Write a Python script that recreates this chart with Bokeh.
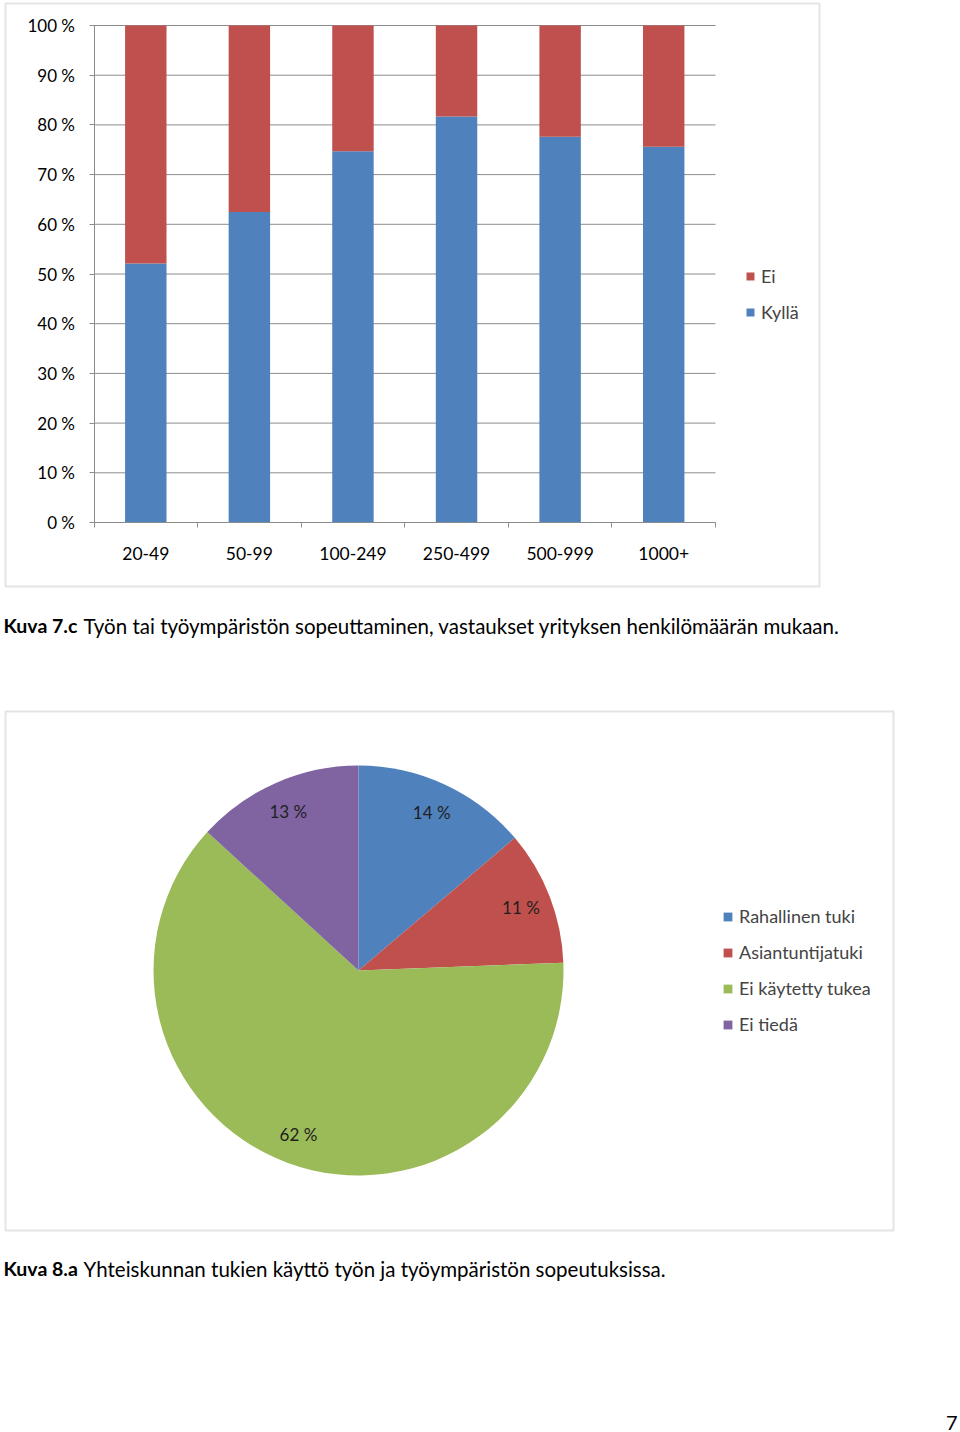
import math
from bokeh.plotting import figure
from bokeh.models import (Range1d, FixedTicker, BoxAnnotation, Label, Legend,
                          LegendItem, ColumnDataSource, LinearAxis)
from bokeh.core.properties import value
from bokeh.embed import file_html
from bokeh.resources import INLINE

FONT = "Lato"
BLUE, RED, GREEN, PURPLE = "#4F81BD", "#C0504D", "#9BBB59", "#8064A2"
GRID = "#8c8c8c"
BOXC = "#a6a6a6"

# ---------------- data ----------------
sizes = ["20-49", "50-99", "100-249", "250-499", "500-999", "1000+"]
kylla = [52.1, 62.5, 74.7, 81.7, 77.6, 75.6]
ei = [47.9, 37.5, 25.3, 18.3, 22.4, 24.4]
y_ticks = [0, 10, 20, 30, 40, 50, 60, 70, 80, 90, 100]
y_tick_labels = ["0 %", "10 %", "20 %", "30 %", "40 %", "50 %",
                 "60 %", "70 %", "80 %", "90 %", "100 %"]
series_names = ["Kyllä", "Ei"]

pie_names = ["Rahallinen tuki", "Asiantuntijatuki", "Ei käytetty tukea", "Ei tiedä"]
pie_values = [13.8, 10.6, 62.4, 13.2]
pie_value_labels = ["14 %", "11 %", "62 %", "13 %"]
pie_colors = [BLUE, RED, GREEN, PURPLE]

caption1_bold = "Kuva 7.c"
caption1_rest = "Työn tai työympäristön sopeuttaminen, vastaukset yrityksen henkilömäärän mukaan."
caption2_bold = "Kuva 8.a"
caption2_rest = "Yhteiskunnan tukien käyttö työn ja työympäristön sopeutuksissa."
page_number = "7"

# ---------------- page layout (pixel anchors) ----------------
W, H = 960, 1432


def xrange_from(px0, v0, px1, v1):
    k = (v1 - v0) / (px1 - px0)
    return Range1d(start=v0 - px0 * k, end=v0 + (W - px0) * k)


def yrange_from(px0, v0, px1, v1):
    k = (v1 - v0) / (px1 - px0)
    return Range1d(start=v0 + (H - px0) * k, end=v0 - px0 * k)


p = figure(width=W, height=H, output_backend="svg", toolbar_location=None,
           title=None, x_range=Range1d(0, W), y_range=Range1d(H, 0),
           x_axis_location=None, y_axis_location=None, min_border=0)
p.outline_line_color = None
p.grid.visible = False
p.background_fill_color = "white"
p.border_fill_color = "white"

# bar chart plot area: x 93.5..715, y 522 (0 %) .. 25 (100 %)
p.extra_x_ranges["bar"] = xrange_from(93.5, 0, 715, len(sizes))
p.extra_y_ranges["pct"] = yrange_from(522, 0, 25, 100)
# pie: centre (358, 970), radius 205 px
p.extra_x_ranges["pie_x"] = xrange_from(358, 0, 563, 1)
p.extra_y_ranges["pie_y"] = yrange_from(970, 0, 765, 1)

# ---------------- bar chart ----------------
p.add_layout(BoxAnnotation(left=5, right=819, top=3, bottom=586,
                           fill_alpha=0, line_color=BOXC, line_width=2))

n = len(sizes)
p.segment(x0=[0] * len(y_ticks), x1=[n] * len(y_ticks), y0=y_ticks, y1=y_ticks,
          x_range_name="bar", y_range_name="pct", line_color=GRID, line_width=1)

xs = [i + 0.5 for i in range(n)]
src = ColumnDataSource(dict(x=xs, kylla=kylla, ei=ei))
rs = p.vbar_stack(["kylla", "ei"], x="x", width=0.4, color=[BLUE, RED],
                  line_color=None, source=src, x_range_name="bar", y_range_name="pct")

yax = LinearAxis(x_range_name="bar", y_range_name="pct", fixed_location=0,
                 bounds=(0, 100), ticker=FixedTicker(ticks=y_ticks))
yax.major_label_overrides = {t: l for t, l in zip(y_ticks, y_tick_labels)}
yax.axis_line_color = GRID
yax.major_tick_line_color = GRID
yax.major_tick_out = 5
yax.major_tick_in = 0
yax.minor_tick_line_color = None
yax.major_label_standoff = 14
yax.major_label_text_font = FONT
yax.major_label_text_font_size = "17px"
yax.major_label_text_color = "#000000"
p.add_layout(yax, "left")

xax = LinearAxis(x_range_name="bar", y_range_name="pct", fixed_location=0,
                 bounds=(0, n),
                 ticker=FixedTicker(ticks=xs, minor_ticks=list(range(n + 1))))
xax.major_label_overrides = {x: s for x, s in zip(xs, sizes)}
xax.axis_line_color = GRID
xax.major_tick_line_color = None
xax.minor_tick_line_color = GRID
xax.minor_tick_out = 5
xax.minor_tick_in = 0
xax.major_label_standoff = 18
xax.major_label_text_font = FONT
xax.major_label_text_font_size = "17.5px"
xax.major_label_text_color = "#000000"
p.add_layout(xax, "below")

leg1 = Legend(items=[LegendItem(label=series_names[1], renderers=[rs[1]]),
                     LegendItem(label=series_names[0], renderers=[rs[0]])],
              location=(745, H - 323), padding=0, margin=0, spacing=14,
              glyph_width=10, glyph_height=10, label_height=20, label_standoff=6,
              label_text_font=FONT, label_text_font_size="18px",
              border_line_color=None, background_fill_alpha=0)
p.add_layout(leg1, "center")

p.add_layout(Label(x=3, y=625, text=caption1_bold, text_font=FONT,
                   text_font_style="bold", text_font_size="19.5px",
                   text_baseline="middle", text_color="#000000"))
p.add_layout(Label(x=83, y=625, text=caption1_rest, text_font=FONT,
                   text_font_size="20.5px", text_baseline="middle", text_color="#000000"))

# ---------------- pie chart ----------------
p.add_layout(BoxAnnotation(left=5, right=893, top=711, bottom=1230,
                           fill_alpha=0, line_color=BOXC, line_width=2))

total = sum(pie_values)
starts, ends, lx, ly = [], [], [], []
cum = 0.0
for v in pie_values:
    a0 = math.pi / 2 - 2 * math.pi * cum / total
    cum += v
    a1 = math.pi / 2 - 2 * math.pi * cum / total
    starts.append(a0)
    ends.append(a1)
    mid = (a0 + a1) / 2
    lx.append(0.85 * math.cos(mid))
    ly.append(0.85 * math.sin(mid))

psrc = ColumnDataSource(dict(start=starts, end=ends, color=pie_colors, name=pie_names,
                             lx=lx, ly=ly, lab=pie_value_labels))
wedges = p.wedge(x=0, y=0, radius=1, start_angle="start", end_angle="end",
                 direction="clock", fill_color="color", line_color=None, source=psrc,
                 x_range_name="pie_x", y_range_name="pie_y")
p.text(x="lx", y="ly", text="lab", source=psrc, text_font=value(FONT),
       text_font_size="17px", text_align="center", text_baseline="middle",
       text_color="#1f1f1f", x_range_name="pie_x", y_range_name="pie_y")

leg2 = Legend(items=[LegendItem(label=nm, renderers=[wedges], index=i)
                     for i, nm in enumerate(pie_names)],
              location=(722, H - 1035), padding=0, margin=0, spacing=14,
              glyph_width=11, glyph_height=11, label_height=20, label_standoff=6,
              label_text_font=FONT, label_text_font_size="18px",
              border_line_color=None, background_fill_alpha=0)
p.add_layout(leg2, "center")

p.add_layout(Label(x=3, y=1268, text=caption2_bold, text_font=FONT,
                   text_font_style="bold", text_font_size="19.5px",
                   text_baseline="middle", text_color="#000000"))
p.add_layout(Label(x=83, y=1268, text=caption2_rest, text_font=FONT,
                   text_font_size="20.5px", text_baseline="middle", text_color="#000000"))
p.add_layout(Label(x=957, y=1422, text=page_number, text_font=FONT, text_align="right",
                   text_font_size="20px", text_baseline="middle", text_color="#000000"))

open("out.html", "w").write(file_html(p, INLINE))
